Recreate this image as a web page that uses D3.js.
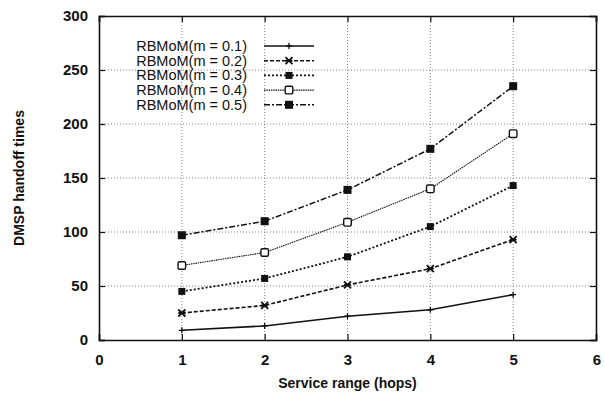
<!DOCTYPE html>
<html>
<head>
<meta charset="utf-8">
<script src="https://cdn.jsdelivr.net/npm/d3@7"></script>
<style>
  body { margin: 0; background: #fff; }
  svg text { font-family: "Liberation Sans", Arial, sans-serif; fill: #111; }
</style>
</head>
<body>
<div id="chart"></div>
<script>
// data
const hops = [1, 2, 3, 4, 5];
const m01 = [9, 13, 22, 28, 42];
const m02 = [25, 32, 51, 66, 93];
const m03 = [45, 57, 77, 105, 143];
const m04 = [69, 81, 109, 140, 191];
const m05 = [97, 110, 139, 177, 235];
const seriesNames = ["RBMoM(m = 0.1)", "RBMoM(m = 0.2)", "RBMoM(m = 0.3)", "RBMoM(m = 0.4)", "RBMoM(m = 0.5)"];
const xTicks = [0, 1, 2, 3, 4, 5, 6];
const yTicks = [0, 50, 100, 150, 200, 250, 300];

const W = 605, H = 398;
const margin = { top: 16, right: 9, bottom: 58, left: 99 };
const width = W - margin.left - margin.right;
const height = H - margin.top - margin.bottom;

const svg = d3.select("#chart").append("svg")
    .attr("width", W).attr("height", H);
const g = svg.append("g").attr("transform", `translate(${margin.left},${margin.top})`);

const x = d3.scaleLinear().domain([0, 6]).range([0, width]);
const y = d3.scaleLinear().domain([0, 300]).range([height, 0]);

// grid
g.selectAll(".vgrid").data(xTicks.slice(1, -1)).enter().append("line")
    .attr("x1", d => x(d)).attr("x2", d => x(d))
    .attr("y1", 0).attr("y2", height)
    .attr("stroke", "#666").attr("stroke-width", 0.8).attr("stroke-dasharray", "1,2");
g.selectAll(".hgrid").data(yTicks.slice(1, -1)).enter().append("line")
    .attr("y1", d => y(d)).attr("y2", d => y(d))
    .attr("x1", 0).attr("x2", width)
    .attr("stroke", "#666").attr("stroke-width", 0.8).attr("stroke-dasharray", "1,2");

// axes
const xAxis = g.append("g").attr("transform", `translate(0,${height})`)
    .call(d3.axisBottom(x).tickValues(xTicks).tickFormat(d3.format("d")).tickSize(-6).tickPadding(14));
const yAxis = g.append("g")
    .call(d3.axisLeft(y).tickValues(yTicks).tickFormat(d3.format("d")).tickSize(-6).tickPadding(11));
g.append("g")
    .call(d3.axisTop(x).tickValues(xTicks).tickSize(-6).tickFormat(""));
g.append("g").attr("transform", `translate(${width},0)`)
    .call(d3.axisRight(y).tickValues(yTicks).tickSize(-6).tickFormat(""));
g.selectAll(".domain").attr("stroke", "#111").attr("stroke-width", 1.6);
g.selectAll(".tick line").attr("stroke", "#111").attr("stroke-width", 1.2);
[xAxis, yAxis].forEach(a => a.selectAll("text")
    .style("font-size", "15px").style("font-weight", "bold").attr("fill", "#111"));
xAxis.selectAll(".tick:last-of-type text").attr("text-anchor", "end").attr("dx", "0.3em");

// axis titles
svg.append("text").attr("x", margin.left + width / 2).attr("y", 388)
    .attr("text-anchor", "middle").style("font-size", "14px").style("font-weight", "bold")
    .text("Service range (hops)");
svg.append("text").attr("transform", `translate(24,${margin.top + height / 2}) rotate(-90)`)
    .attr("text-anchor", "middle").style("font-size", "14px").style("font-weight", "bold")
    .text("DMSP handoff times");

// series
const styles = [
    { dash: null, w: 1.6, marker: "plus" },
    { dash: "4,2", w: 1.6, marker: "cross" },
    { dash: "2,2", w: 1.8, marker: "fsquare" },
    { dash: "1.5,0.8", w: 1.1, marker: "osquare" },
    { dash: "6,2,2,2", w: 1.5, marker: "bsquare" }
];
const allSeries = [m01, m02, m03, m04, m05];

function drawMarker(sel, type, cx, cy) {
    if (type === "plus") {
        sel.append("path").attr("d", `M${cx - 3},${cy}H${cx + 3}M${cx},${cy - 3}V${cy + 3}`)
            .attr("stroke", "#111").attr("stroke-width", 1.3);
    } else if (type === "cross") {
        sel.append("path").attr("d", `M${cx - 3.5},${cy - 3.5}L${cx + 3.5},${cy + 3.5}M${cx - 3.5},${cy + 3.5}L${cx + 3.5},${cy - 3.5}M${cx - 3.5},${cy}H${cx + 3.5}`)
            .attr("stroke", "#111").attr("stroke-width", 1.8);
    } else if (type === "fsquare") {
        sel.append("rect").attr("x", cx - 3.5).attr("y", cy - 3.5).attr("width", 7).attr("height", 7)
            .attr("fill", "#111");
    } else if (type === "osquare") {
        sel.append("rect").attr("x", cx - 3.8).attr("y", cy - 3.8).attr("width", 7.6).attr("height", 7.6)
            .attr("rx", 1.5).attr("fill", "#fff").attr("stroke", "#111").attr("stroke-width", 1.4);
    } else {
        sel.append("rect").attr("x", cx - 4).attr("y", cy - 4).attr("width", 8).attr("height", 8)
            .attr("fill", "#111");
    }
}

const line = d3.line().x(d => x(d[0])).y(d => y(d[1]));
allSeries.forEach((vals, i) => {
    const pts = hops.map((h, j) => [h, vals[j]]);
    g.append("path").datum(pts).attr("d", line)
        .attr("fill", "none").attr("stroke", "#111")
        .attr("stroke-width", styles[i].w)
        .attr("stroke-dasharray", styles[i].dash);
    const mg = g.append("g");
    pts.forEach(p => drawMarker(mg, styles[i].marker, x(p[0]), y(p[1])));
});

// legend
const legend = svg.append("g");
seriesNames.forEach((name, i) => {
    const ly = 46 + i * 14.7;
    legend.append("text").attr("x", 247).attr("y", ly + 5)
        .attr("text-anchor", "end").style("font-size", "14.5px").text(name);
    legend.append("line").attr("x1", 264).attr("x2", 314).attr("y1", ly).attr("y2", ly)
        .attr("stroke", "#111").attr("stroke-width", styles[i].w)
        .attr("stroke-dasharray", styles[i].dash);
    drawMarker(legend, styles[i].marker, 289, ly);
});
</script>
</body>
</html>
